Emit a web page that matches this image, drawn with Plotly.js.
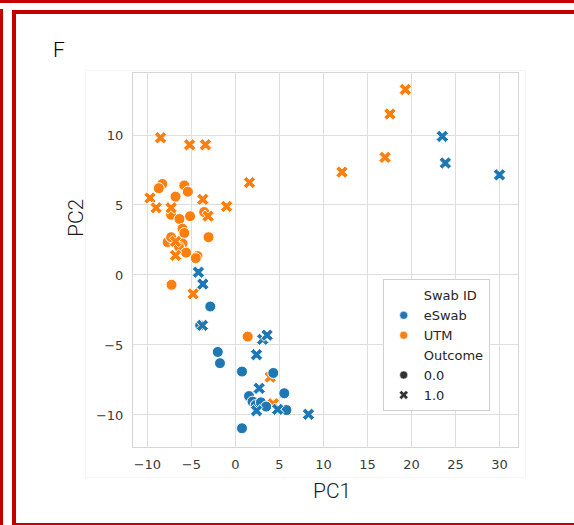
<!DOCTYPE html>
<html>
<head>
<meta charset="utf-8">
<script src="https://cdn.plot.ly/plotly-3.0.1.min.js"></script>
<style>
  html, body { margin: 0; padding: 0; background: #ffffff; }
  #wrap { position: relative; width: 574px; height: 525px; overflow: hidden; background: #fff; }
  .red { position: absolute; background: #c40000; }
  #figedge { position: absolute; left: 85px; top: 70px; width: 441px; height: 408px; border: 1px solid #f5f5f5; box-sizing: border-box; }
  #chart { position: absolute; left: 0; top: 0; width: 574px; height: 525px; }
</style>
</head>
<body>
<div id="wrap">
  <div class="red" style="left:0;top:0;width:574px;height:3px;"></div>
  <div class="red" style="left:0;top:9px;width:3px;height:516px;"></div>
  <div class="red" style="left:12px;top:10px;width:562px;height:4px;"></div>
  <div class="red" style="left:12px;top:10px;width:4px;height:515px;"></div>
  <div class="red" style="left:12px;top:523px;width:562px;height:2px;"></div>
  <div id="figedge"></div>
  <div id="chart"></div>
</div>
<script>
// ---- data (PC1, PC2) ----
const swabGroups = ["eSwab", "UTM"];
const outcomeLevels = ["0.0", "1.0"];

// eSwab, Outcome 0.0 (circles)
const eswabCircleX = [-2.85, -4.0, -2.0, -1.75, 0.75, 4.3, 1.55, 5.55, 1.95, 2.3, 2.9, 3.5, 5.8, 0.75];
const eswabCircleY = [-2.25, -3.6, -5.5, -6.3, -6.9, -7.0, -8.65, -8.45, -9.05, -9.3, -9.1, -9.4, -9.65, -10.95];

// eSwab, Outcome 1.0 (crosses)
const eswabCrossX = [-4.2, -3.7, -3.75, 3.1, 3.6, 2.4, 2.7, 2.4, 4.8, 8.3, 23.5, 23.85, 30.0];
const eswabCrossY = [0.2, -0.65, -3.6, -4.6, -4.3, -5.7, -8.1, -9.7, -9.6, -9.95, 9.9, 8.0, 7.15];

// UTM, Outcome 0.0 (circles)
const utmCircleX = [-8.3, -8.7, -5.8, -5.4, -6.8, -7.3, -6.35, -5.15, -3.55, -6.0, -5.8, -3.05, -7.7, -7.3, -6.0, -6.4, -5.6, -4.3, -4.5, -7.25, 1.4];
const utmCircleY = [6.5, 6.2, 6.4, 5.95, 5.6, 4.3, 4.0, 4.2, 4.5, 3.3, 3.0, 2.7, 2.35, 2.7, 2.25, 2.0, 1.6, 1.35, 1.2, -0.7, -4.4];

// UTM, Outcome 1.0 (crosses)
const utmCrossX = [-8.5, -5.2, -3.4, 1.6, -9.7, -9.0, -7.3, -3.7, -1.0, -3.1, -6.8, -6.8, -4.8, 3.95, 4.3, 12.1, 17.0, 17.55, 19.3];
const utmCrossY = [9.8, 9.3, 9.3, 6.6, 5.5, 4.8, 4.8, 5.4, 4.9, 4.2, 2.4, 1.4, -1.35, -7.3, -9.2, 7.35, 8.4, 11.5, 13.25];

const xTicks = [-10, -5, 0, 5, 10, 15, 20, 25, 30];
const yTicks = [-10, -5, 0, 5, 10];
const tickText = v => (v < 0 ? "\u2212" + Math.abs(v) : String(v));

const BLUE = "#1f77b4", ORANGE = "#ff7f0e", DARK = "#333333";
const MS = 11;

function pts(x, y, color, symbol) {
  return {
    type: "scatter", mode: "markers", x: x, y: y, showlegend: false, hoverinfo: "skip",
    marker: { color: color, symbol: symbol, size: MS, line: { color: "#ffffff", width: 1 } }
  };
}
function leg(name, color, symbol, size, opacity, rank) {
  return {
    type: "scatter", mode: "markers", x: [null], y: [null], name: name, showlegend: true,
    legendrank: rank,
    marker: { color: color, symbol: symbol, size: size, opacity: opacity, line: { color: "#ffffff", width: 0.5 } }
  };
}

const traces = [
  pts(utmCircleX, utmCircleY, ORANGE, "circle"),
  pts(utmCrossX, utmCrossY, ORANGE, "x"),
  pts(eswabCircleX, eswabCircleY, BLUE, "circle"),
  pts(eswabCrossX, eswabCrossY, BLUE, "x"),
  leg("Swab ID", "#ffffff", "circle", 8, 0, 1),
  leg(swabGroups[0], BLUE, "circle", 8, 1, 2),
  leg(swabGroups[1], ORANGE, "circle", 8, 1, 3),
  leg("Outcome", "#ffffff", "circle", 8, 0, 4),
  leg(outcomeLevels[0], DARK, "circle", 8, 1, 5),
  leg(outcomeLevels[1], DARK, "x", 8, 1, 6)
];

const axisCommon = {
  showgrid: true, gridcolor: "#dedede", gridwidth: 1,
  showline: true, linecolor: "#d6d6d6", linewidth: 1, mirror: true,
  zeroline: false, ticks: "", tickmode: "array",
  tickfont: { family: "DejaVu Sans", size: 13, color: "#3a3a3a" }
};

const TITLE_FONT = "Roboto, DejaVu Sans Condensed, sans-serif";

const layout = {
  width: 574, height: 525,
  margin: { l: 133, r: 56, t: 73, b: 78 },
  paper_bgcolor: "rgba(0,0,0,0)",
  plot_bgcolor: "#ffffff",
  showlegend: true,
  xaxis: Object.assign({}, axisCommon, {
    range: [-11.63, 32.1], tickvals: xTicks, ticktext: xTicks.map(tickText), ticklabelstandoff: 5
  }),
  yaxis: Object.assign({}, axisCommon, {
    range: [-12.29, 14.43], tickvals: yTicks, ticktext: yTicks.map(tickText), ticklabelstandoff: 6
  }),
  legend: {
    x: 0.6486, y: 0.448, xanchor: "left", yanchor: "top",
    bgcolor: "#ffffff", bordercolor: "#d0d0d0", borderwidth: 1,
    font: { family: "DejaVu Sans", size: 13, color: "#262626" },
    traceorder: "normal", itemsizing: "trace", itemwidth: 30, tracegroupgap: 0
  },
  annotations: [
    { text: "F", xref: "paper", yref: "paper", x: (58.5 - 133) / 385, y: (447 - 49.5) / 374,
      xanchor: "center", yanchor: "middle", showarrow: false,
      font: { family: TITLE_FONT, size: 21, color: "#000", weight: 300 } },
    { text: "PC1", xref: "paper", yref: "paper", x: (332 - 133) / 385, y: (447 - 491.5) / 374,
      xanchor: "center", yanchor: "middle", showarrow: false,
      font: { family: TITLE_FONT, size: 21, color: "#1a1a1a", weight: 300 } },
    { text: "PC2", xref: "paper", yref: "paper", x: (75.5 - 133) / 385, y: (447 - 218.5) / 374,
      xanchor: "center", yanchor: "middle", showarrow: false, textangle: -90,
      font: { family: TITLE_FONT, size: 21, color: "#1a1a1a", weight: 300 } }
  ]
};

Plotly.newPlot("chart", traces, layout, { staticPlot: true, displayModeBar: false });
</script>
</body>
</html>
